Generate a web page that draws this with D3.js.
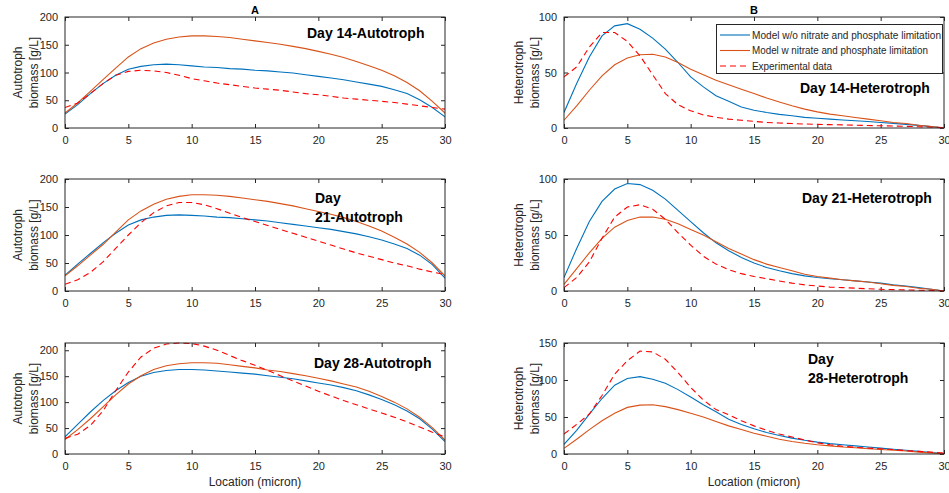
<!DOCTYPE html>
<html lang="en">
<head>
<meta charset="utf-8">
<title>Biomass profiles</title>
<script src="https://d3js.org/d3.v7.min.js"></script>
<style>
  body { margin: 0; background: #fff; }
  svg text { font-family: "Liberation Sans", Arial, sans-serif; fill: #262626; }
  .tick text { font-size: 11px; }
  .ann { font-size: 14px; font-weight: bold; fill: #000; }
</style>
</head>
<body>
<script>
// location along the biofilm (micron), one sample per micron
const location_um = d3.range(0, 31);

const seriesNames = ["Model w/o nitrate and phosphate limitation",
                     "Model w nitrate and phosphate limitation",
                     "Experimental data"];

// Autotroph, day 14
const a14_noLim = [25,42,62,80,95,106,111,114,115,114,112,110,109,107,106,104,103,101,99,96,93,90,87,83,79,75,69,62,51,37,20];
const a14_lim   = [27,45,66,87,108,128,143,153,160,164,166,166,165,163,160,157,154,151,147,143,138,133,127,120,112,104,94,82,67,48,27];
const a14_exp   = [37,45,62,80,95,102,104,103,100,95,89,85,81,78,75,72,70,68,65,62,60,57,54,52,50,48,46,43,40,37,34];

// Heterotroph, day 14
const h14_noLim = [14,40,64,83,92,94,89,81,71,59,46,37,29,24,19,16,14,12.3,11,9.6,8.8,8,7.2,6.5,5.8,5,4.2,3.3,2.4,1.2,0];
const h14_lim   = [7,20,34,47,57,63,66,66.4,64,59,53,48,43,39,35,31,27,23.5,20,17,14.5,12.5,11,9.5,8,6.5,5,4,2.5,1.3,0];
const h14_exp   = [46,55,73,86,86,78,65,48,31,21,15.5,11.8,9.6,8,7,6,5,4.5,4,3.6,3.3,3,2.8,2.5,2.2,2,1.8,1.5,1.1,0.7,0.3];

// Autotroph, day 21
const a21_noLim = [28,48,67,86,103,118,127,132,135,136,135,134,132,131,129,127,125,122,119,116,113,110,106,102,97,91,84,76,64,47,23];
const a21_lim   = [27,45,64,83,105,127,143,155,164,169,172,172,171,169,166,163,160,156,152,147,142,137,131,124,116,107,96,84,69,50,27];
const a21_exp   = [12,20,33,52,76,100,122,140,152,158,158,154,147,139,131,124,117,110,103,96,89,82,75,68,62,56,50,45,39,34,29];

// Heterotroph, day 21
const h21_noLim = [12,38,62,80,91,96,95,90,82,72,62,52,43,36,30,25,21,18,15.5,13.5,12,11,10,9,8,7,5.5,4.5,3,1.5,0];
const h21_lim   = [6,20,34,47,57,63,66,66,64,60,55,50,44,38,33,28,24,21,18,15,13,11.5,10,9,8,6.5,5,4,2.5,1.5,0];
const h21_exp   = [3,12,26,47,66,75,77,73,64,52,41,31,24,19,15.5,13,11,9,7,5.5,4.5,3.5,3,2.5,2,1.5,1.2,1,0.7,0.4,0];

// Autotroph, day 28
const a28_noLim = [33,57,81,103,122,138,150,157,161,163,163,162,160,158,156,154,151,148,145,141,137,133,128,122,114,105,95,83,68,48,24];
const a28_lim   = [28,47,68,91,114,135,151,163,170,174,176,176,175,172,169,166,162,159,155,151,146,141,135,129,121,111,100,87,71,51,27];
const a28_exp   = [30,38,55,83,122,158,187,204,212,214,213,208,200,190,180,171,161,151,141,131,121,112,103,95,87,79,71,62,52,42,33];

// Heterotroph, day 28
const h28_noLim = [13,32,54,75,93,102,104.5,101,95.5,87,77,66.5,57,47,40,34,29,25,21.5,18.5,16,14,12.5,11,9.5,8,6.5,5,3.5,2,0.5];
const h28_lim   = [7.6,20,33,45,55,63,66,66.5,64,60,55,50,44,38,33,28,24,20,17,14.5,12.5,11,9.5,8.5,7,6,5,4,2.5,1.5,0];
const h28_exp   = [27,40,54,79,108,126,139,138,128,110,90,73,60,53,45,38,32,27,23,19,15,12.5,10.5,9,8,7,6,4.5,3.5,2.5,1];

const xTicks = [0, 5, 10, 15, 20, 25, 30];

const panels = [
  {col: 0, row: 0, ymax: 200, yTicks: [0,50,100,150,200], kind: "Autotroph", data: [a14_noLim, a14_lim, a14_exp],
   ann: [["Day 14-Autotroph", 307, 38]]},
  {col: 1, row: 0, ymax: 100, yTicks: [0,50,100], kind: "Heterotroph", data: [h14_noLim, h14_lim, h14_exp],
   ann: [["Day 14-Heterotroph", 800, 93]]},
  {col: 0, row: 1, ymax: 200, yTicks: [0,50,100,150,200], kind: "Autotroph", data: [a21_noLim, a21_lim, a21_exp],
   ann: [["Day", 315, 203], ["21-Autotroph", 315, 222]]},
  {col: 1, row: 1, ymax: 100, yTicks: [0,50,100], kind: "Heterotroph", data: [h21_noLim, h21_lim, h21_exp],
   ann: [["Day 21-Heterotroph", 802, 203]]},
  {col: 0, row: 2, ymax: 214, yTicks: [0,50,100,150,200], kind: "Autotroph", data: [a28_noLim, a28_lim, a28_exp],
   ann: [["Day 28-Autotroph", 314, 368]]},
  {col: 1, row: 2, ymax: 150, yTicks: [0,50,100,150], kind: "Heterotroph", data: [h28_noLim, h28_lim, h28_exp],
   ann: [["Day", 808, 364], ["28-Heterotroph", 808, 383]]}
];

const colors = ["#0072BD", "#D95319", "#FF0000"];
const dashes = [null, null, "6,4"];
const legendTextW = [189, 176, 80];

const W = 949, H = 493;
const cols = [[65, 445], [564, 944]];
const rows = [[17, 128], [179, 291], [343, 454]];
const tickLen = 4;

const svg = d3.select("body").append("svg")
  .attr("width", W).attr("height", H);

panels.forEach(p => {
  const [x0, x1] = cols[p.col];
  const [y0, y1] = rows[p.row];
  const x = d3.scaleLinear().domain([0, 30]).range([x0, x1]);
  const y = d3.scaleLinear().domain([0, p.ymax]).range([y1, y0]);

  const g = svg.append("g");

  // axes with inward ticks on all four sides (box on)
  const axB = g.append("g").attr("transform", `translate(0,${y1})`)
    .call(d3.axisBottom(x).tickValues(xTicks).tickSizeInner(-tickLen).tickSizeOuter(0).tickPadding(8));
  const axT = g.append("g").attr("transform", `translate(0,${y0})`)
    .call(d3.axisTop(x).tickValues(xTicks).tickSizeInner(-tickLen).tickSizeOuter(0).tickFormat(""));
  const axL = g.append("g").attr("transform", `translate(${x0},0)`)
    .call(d3.axisLeft(y).tickValues(p.yTicks).tickSizeInner(-tickLen).tickSizeOuter(0).tickPadding(7));
  const axR = g.append("g").attr("transform", `translate(${x1},0)`)
    .call(d3.axisRight(y).tickValues(p.yTicks).tickSizeInner(-tickLen).tickSizeOuter(0).tickFormat(""));
  [axB, axT, axL, axR].forEach(a => {
    a.select(".domain").remove();
    a.selectAll("line").attr("stroke", "#262626");
    a.selectAll("text").attr("font-family", null).attr("font-size", null);
  });

  const clipId = `clip${p.col}${p.row}`;
  svg.append("clipPath").attr("id", clipId).append("rect")
    .attr("x", x0).attr("y", y0 - 1).attr("width", x1 - x0).attr("height", y1 - y0 + 2);

  const line = d3.line().x((d, i) => x(location_um[i])).y(d => y(d));
  p.data.forEach((s, k) => {
    g.append("path").datum(s)
      .attr("clip-path", `url(#${clipId})`)
      .attr("fill", "none")
      .attr("stroke", colors[k])
      .attr("stroke-width", 1.1)
      .attr("stroke-dasharray", dashes[k])
      .attr("d", line);
  });

  g.append("rect").attr("x", x0).attr("y", y0)
    .attr("width", x1 - x0).attr("height", y1 - y0)
    .attr("fill", "none").attr("stroke", "#262626").attr("stroke-width", 1);

  // y label, two lines
  const cy = (y0 + y1) / 2;
  const lx = p.col === 0 ? 22 : 523;
  const yl = g.append("text")
    .attr("transform", `translate(${lx},${cy}) rotate(-90)`)
    .attr("text-anchor", "middle").attr("font-size", 12);
  yl.append("tspan").attr("x", 0).attr("dy", 0).text(p.kind);
  yl.append("tspan").attr("x", 0).attr("dy", 16).text("biomass [g/L]");

  p.ann.forEach(a => {
    g.append("text").attr("class", "ann").attr("x", a[1]).attr("y", a[2]).text(a[0]);
  });

  if (p.row === 0) {
    g.append("text").attr("x", (x0 + x1) / 2).attr("y", 14)
      .attr("text-anchor", "middle").attr("font-size", 11).attr("font-weight", "bold")
      .style("fill", "#000").text(p.col === 0 ? "A" : "B");
  }
  if (p.row === 2) {
    g.append("text").attr("x", (x0 + x1) / 2).attr("y", 486)
      .attr("text-anchor", "middle").attr("font-size", 12).text("Location (micron)");
  }
});

// legend in panel B, day 14
const leg = svg.append("g");
leg.append("rect").attr("x", 716.5).attr("y", 24.5).attr("width", 226).attr("height", 49)
  .attr("fill", "#fff").attr("stroke", "#262626").attr("stroke-width", 1);
seriesNames.forEach((name, k) => {
  const ly = 35 + k * 15.5;
  leg.append("line").attr("x1", 720).attr("x2", 750).attr("y1", ly).attr("y2", ly)
    .attr("stroke", colors[k]).attr("stroke-width", 1.1).attr("stroke-dasharray", dashes[k]);
  leg.append("text").attr("x", 752).attr("y", ly + 3.5).attr("font-size", 10)
    .attr("textLength", legendTextW[k]).attr("lengthAdjust", "spacingAndGlyphs").text(name);
});
</script>
</body>
</html>
